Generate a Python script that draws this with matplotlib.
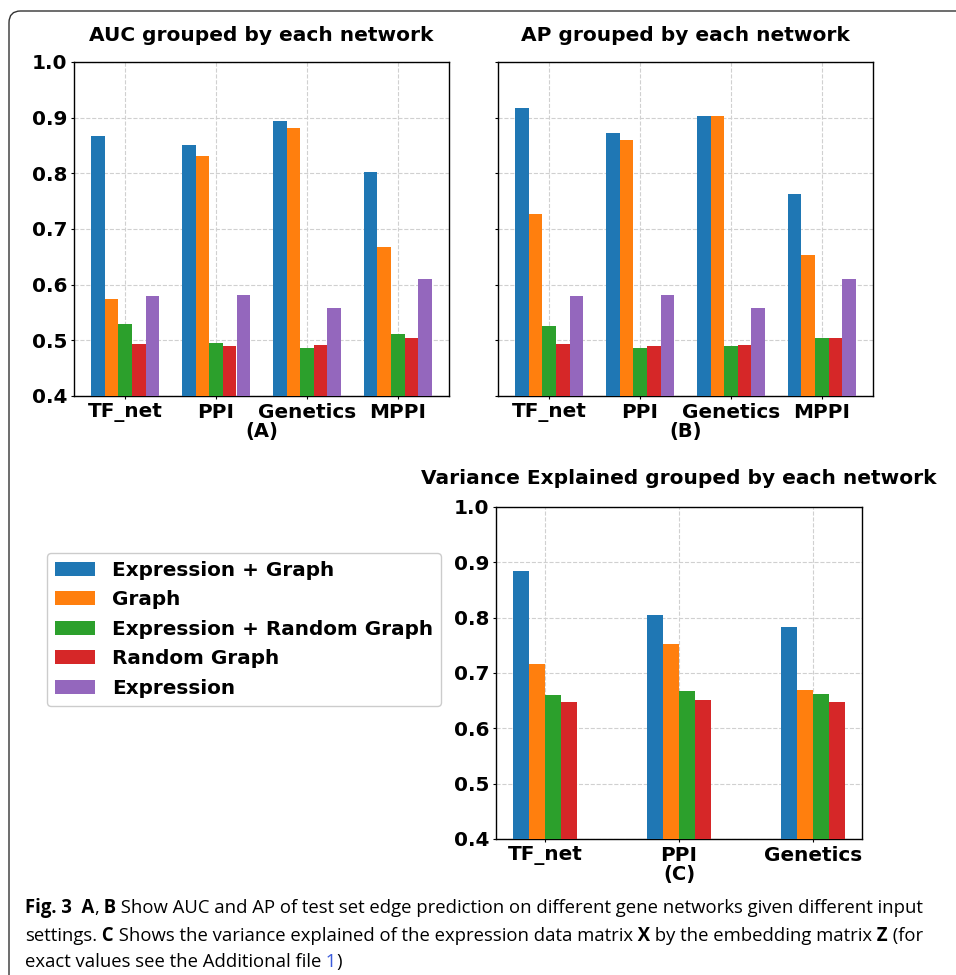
import numpy as np
import matplotlib
matplotlib.use("Agg")
import matplotlib.pyplot as plt
from matplotlib.patches import FancyBboxPatch

networks_ab = ["TF_net", "PPI", "Genetics", "MPPI"]
networks_c = ["TF_net", "PPI", "Genetics"]
settings = ["Expression + Graph", "Graph", "Expression + Random Graph",
            "Random Graph", "Expression"]
colors = ["#1f77b4", "#ff7f0e", "#2ca02c", "#d62728", "#9467bd"]

auc_expr_graph = [0.867, 0.851, 0.894, 0.802]
auc_graph = [0.574, 0.832, 0.881, 0.667]
auc_expr_rand = [0.529, 0.496, 0.486, 0.511]
auc_rand = [0.493, 0.489, 0.491, 0.504]
auc_expr = [0.579, 0.581, 0.558, 0.610]

ap_expr_graph = [0.917, 0.872, 0.903, 0.763]
ap_graph = [0.727, 0.860, 0.903, 0.653]
ap_expr_rand = [0.525, 0.487, 0.489, 0.505]
ap_rand = [0.493, 0.489, 0.491, 0.504]
ap_expr = [0.579, 0.581, 0.558, 0.610]

var_expr_graph = [0.884, 0.805, 0.783]
var_graph = [0.716, 0.752, 0.669]
var_expr_rand = [0.660, 0.667, 0.662]
var_rand = [0.648, 0.651, 0.648]

auc = [auc_expr_graph, auc_graph, auc_expr_rand, auc_rand, auc_expr]
ap = [ap_expr_graph, ap_graph, ap_expr_rand, ap_rand, ap_expr]
var = [var_expr_graph, var_graph, var_expr_rand, var_rand]

plt.rcParams['font.family'] = ['DejaVu Sans']
plt.rcParams['font.weight'] = 'bold'

W, H = 956, 975
fig = plt.figure(figsize=(W / 100, H / 100), dpi=100)


def box(l, t, r, b):
    return [l / W, 1 - b / H, (r - l) / W, (b - t) / H]


def grouped(ax, names, data, width, title, label, show_y=True, tpad=15):
    x = np.arange(len(names))
    n = len(data)
    for i, vals in enumerate(data):
        ax.bar(x + (i - (n - 1) / 2) * width, np.array(vals) - 0.4, width,
               bottom=0.4, color=colors[i], label=settings[i], zorder=3)
    ax.set_ylim(0.4, 1.0)
    ax.set_xticks(x)
    ax.set_xticklabels(names, fontsize=14.4, fontweight='bold')
    ax.set_yticks([0.4, 0.5, 0.6, 0.7, 0.8, 0.9, 1.0])
    if show_y:
        ax.set_yticklabels(["0.4", "0.5", "0.6", "0.7", "0.8", "0.9", "1.0"],
                           fontsize=14.4, fontweight='bold')
    else:
        ax.set_yticklabels([])
    ax.tick_params(length=2.5, pad=2.5)
    ax.grid(True, color='#d0d0d0', linestyle='--', linewidth=0.8, zorder=0)
    ax.set_title(title, fontsize=14.5, fontweight='bold', pad=tpad)
    ax.set_xlabel(label, fontsize=14, fontweight='bold', labelpad=0)
    for s in ax.spines.values():
        s.set_linewidth(1.0)


ax1 = fig.add_axes(box(74, 62, 449, 396))
grouped(ax1, networks_ab, auc, 0.15, "AUC grouped by each network", "(A)")
ax2 = fig.add_axes(box(498, 62, 873, 396))
grouped(ax2, networks_ab, ap, 0.15, "AP grouped by each network", "(B)", show_y=False)
ax3 = fig.add_axes(box(496, 507, 862, 839))
grouped(ax3, networks_c, var, 0.12, "Variance Explained grouped by each network", "(C)",
        tpad=16.5)

handles, labels = ax1.get_legend_handles_labels()
fig.legend(handles, labels, loc='upper left', bbox_to_anchor=(47 / W, 1 - 553 / H),
           bbox_transform=fig.transFigure, borderaxespad=0,
           prop={'weight': 'bold', 'size': 14.4}, handlelength=2.0,
           handleheight=0.7, handletextpad=0.85,
           labelspacing=0.52, framealpha=1, edgecolor='#cccccc')

# frame around the figure (cut at right and bottom)
frame = FancyBboxPatch((9 / W, -0.05), 1.1, 1 - 11 / H + 0.05,
                       boxstyle="round,pad=0,rounding_size=0.012",
                       transform=fig.transFigure, fill=False,
                       edgecolor='#333333', linewidth=1.0, clip_on=False)
fig.patches.append(frame)

# caption
cap_font = ['Open Sans', 'DejaVu Sans']
lines = [
    (913, [("Fig. 3", 'bold', 'black'), ("  A", 'bold', 'black'), (",", 'normal', 'black'),
           (" B", 'bold', 'black'),
           (" Show AUC and AP of test set edge prediction on different gene networks given different input",
            'normal', 'black')]),
    (941, [("settings.", 'normal', 'black'), (" C", 'bold', 'black'),
           (" Shows the variance explained of the expression data matrix", 'normal', 'black'),
           (" X", 'bold', 'black'), (" by the embedding matrix", 'normal', 'black'),
           (" Z", 'bold', 'black'), (" (for", 'normal', 'black')]),
    (967, [("exact values see the Additional file", 'normal', 'black'),
           (" 1", 'normal', '#3b5bdb'), (")", 'normal', 'black')]),
]
renderer = fig.canvas.get_renderer()


def draw_line(ybase, pieces, size):
    xpos = 25
    made = []
    for txt, wt, col in pieces:
        t = fig.text(xpos / W, 1 - ybase / H, txt, family=cap_font, fontsize=size,
                     fontweight=wt, color=col, va='baseline', ha='left')
        xpos = t.get_window_extent(renderer).x1
        made.append(t)
    return xpos, made


# fit the caption size so the first line ends where the reference's does
right, made = draw_line(lines[0][0], lines[0][1], 12)
for t in made:
    t.remove()
cap_size = 12 * (923 - 25) / (right - 25)
for ybase, pieces in lines:
    draw_line(ybase, pieces, cap_size)

fig.savefig("out.png", dpi=100)
